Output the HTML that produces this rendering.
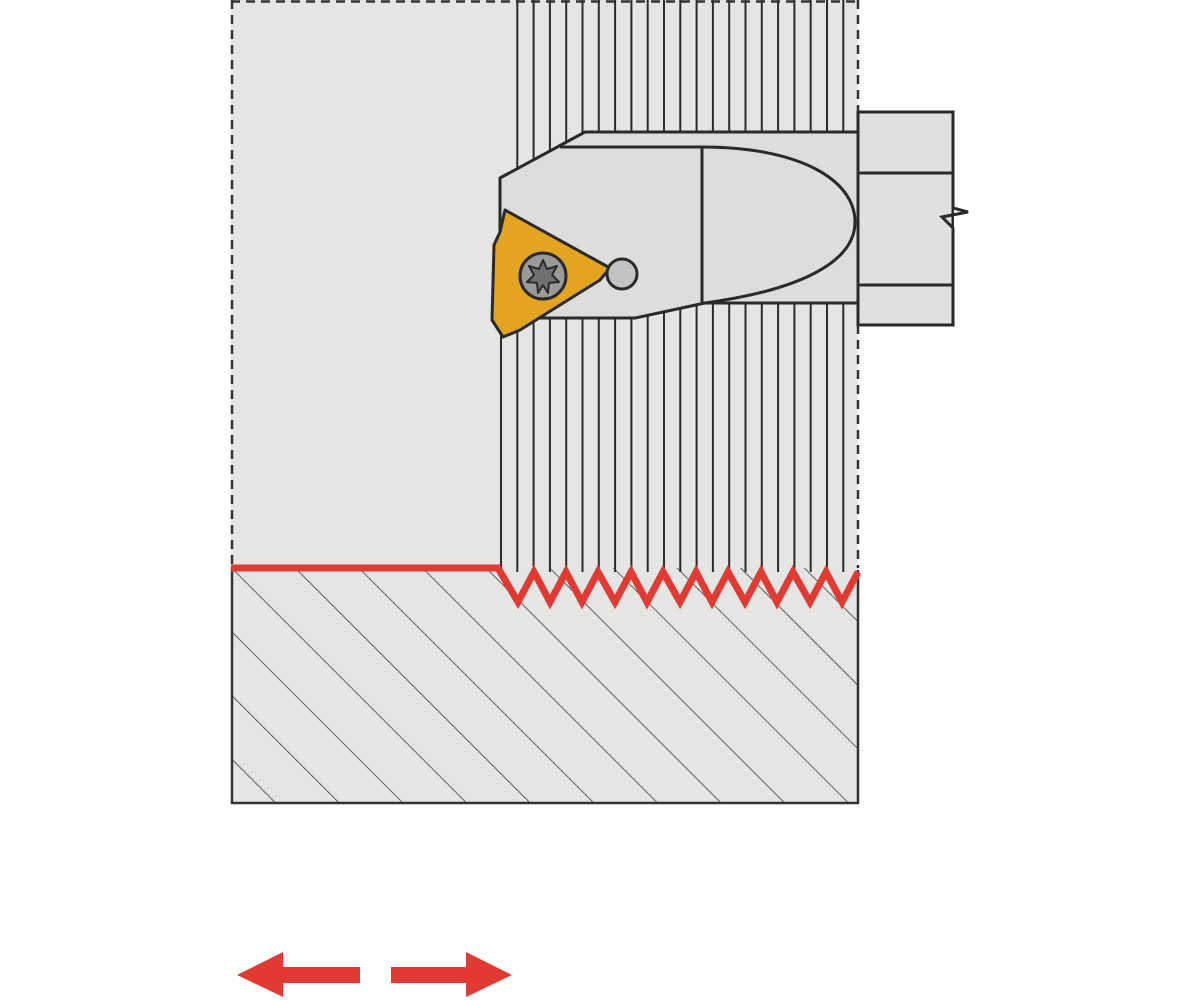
<!DOCTYPE html>
<html><head><style>html,body{margin:0;padding:0;background:#fff}svg{display:block}</style></head>
<body>
<svg width="1200" height="1000" viewBox="0 0 1200 1000" xmlns="http://www.w3.org/2000/svg">
<defs>
<pattern id="vs" x="500" y="0" width="16.3" height="20" patternUnits="userSpaceOnUse">
<line x1="1" y1="0" x2="1" y2="20" stroke="#2a2a2a" stroke-width="2"/>
</pattern>
<pattern id="dg" x="231" y="568" width="45" height="45" patternUnits="userSpaceOnUse" patternTransform="rotate(-45 231 568)">
<line x1="0" y1="0" x2="0" y2="45" stroke="#333" stroke-width="1.5"/>
</pattern>
</defs>
<rect x="231" y="0" width="627" height="803" fill="#e5e5e4"/>
<rect x="512" y="0" width="344" height="200" fill="url(#vs)"/>
<rect x="500" y="200" width="356" height="372" fill="url(#vs)"/>
<rect x="231" y="568" width="627" height="235" fill="url(#dg)"/>
<rect x="858" y="112" width="95" height="213" fill="#e0e0e0" stroke="#2a2a2a" stroke-width="3"/>
<line x1="858" y1="173" x2="953" y2="173" stroke="#2a2a2a" stroke-width="3"/>
<line x1="858" y1="285" x2="953" y2="285" stroke="#2a2a2a" stroke-width="3"/>
<rect x="954" y="190" width="20" height="60" fill="#fff"/>
<polyline points="953,173 953,208 968,212 942,217 953,228 953,285" fill="none" stroke="#2a2a2a" stroke-width="3"/>
<polygon points="500,178 585,132 858,132 858,303 705,303 635,318 515,318 500,300" fill="#dedddc" stroke="#2a2a2a" stroke-width="3" stroke-linejoin="round"/>
<path d="M560,147 L702,147 C800,147 855,180 855,222 C855,262 800,290 705,303" fill="none" stroke="#2a2a2a" stroke-width="3"/>
<line x1="702" y1="147" x2="702" y2="303" stroke="#2a2a2a" stroke-width="3"/>
<polygon points="505,210 610,268 600,280 520,330 503,337 492,320 494,245 500,232" fill="#e3a51f" stroke="#2a2a2a" stroke-width="3" stroke-linejoin="round"/>
<circle cx="622" cy="274" r="15" fill="#c4c4c4" stroke="#2a2a2a" stroke-width="3"/>
<circle cx="543" cy="276" r="23" fill="#9a9a9a" stroke="#2a2a2a" stroke-width="3"/>
<path d="M543,260 l4,9 10,-3 -5,9 7,7 -10,1 -1,10 -5,-8 -5,8 -1,-10 -10,-1 7,-7 -5,-9 10,3z" fill="#707070" stroke="#2a2a2a" stroke-width="2" stroke-linejoin="round"/>
<line x1="231" y1="1.5" x2="858" y2="1.5" stroke="#333" stroke-width="2.5" stroke-dasharray="9,6"/>
<line x1="232" y1="0" x2="232" y2="568" stroke="#333" stroke-width="2.5" stroke-dasharray="9,6"/>
<line x1="858" y1="0" x2="858" y2="112" stroke="#333" stroke-width="2.5" stroke-dasharray="9,6"/>
<line x1="858" y1="325" x2="858" y2="568" stroke="#333" stroke-width="2.5" stroke-dasharray="9,6"/>
<polyline points="232,568 232,803 858,803 858,570" fill="none" stroke="#333" stroke-width="2.5"/>
<polyline points="231,568 498,568 518,602 534,572 550,602 566,572 582,602 598,572 615,602 631,572 647,602 663,572 680,602 696,572 712,602 728,572 745,602 761,572 777,602 793,572 810,602 826,572 842,602 858,572" fill="none" stroke="#e03a33" stroke-width="7" stroke-linejoin="miter"/>
<polygon points="237,975 283,952 283,967 360,967 360,983 283,983 283,997" fill="#e03a33"/>
<polygon points="512,975 466,952 466,967 391,967 391,983 466,983 466,997" fill="#e03a33"/>
</svg>
</body></html>
